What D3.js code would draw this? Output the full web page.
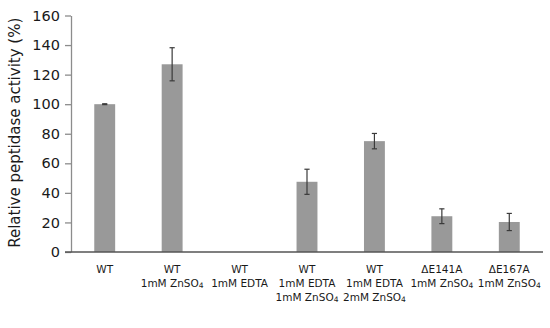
<!DOCTYPE html>
<html>
<head>
<meta charset="utf-8">
<script src="https://cdn.jsdelivr.net/npm/d3@7"></script>
<style>
    body { margin: 0; background: #fff; }
    svg { display: block; font-family: 'DejaVu Sans', Verdana, sans-serif; }
</style>
</head>
<body>
<svg id="chart"></svg>
<script>
// Chart values.
const categories = ['c1', 'c2', 'c3', 'c4', 'c5', 'c6', 'c7'];
const labels = [
    ['WT'],
    ['WT', '1mM ZnSO_4'],
    ['WT', '1mM EDTA'],
    ['WT', '1mM EDTA', '1mM ZnSO_4'],
    ['WT', '1mM EDTA', '2mM ZnSO_4'],
    ['ΔE141A', '1mM ZnSO_4'],
    ['ΔE167A', '1mM ZnSO_4'],
];
const activity = [100, 127, 0, 47.5, 75, 24.2, 20.3];
const errors = [0.3, 11.2, 0, 8.5, 5.2, 5, 5.8];
const yTicks = [0, 20, 40, 60, 80, 100, 120, 140, 160];

// Chart dimensions.
const width = 550;
const height = 328;
const marginLeft = 71;
const marginRight = 7;
const marginTop = 15.5;
const axisY = 252;

const svg = d3.select('#chart').attr('width', width).attr('height', height);

// X scale.
const x = d3
    .scaleBand()
    .domain(categories)
    .range([marginLeft, width - marginRight])
    .paddingInner(0.69)
    .paddingOuter(0.345);

// Y scale.
const y = d3.scaleLinear().domain([0, 160]).range([axisY, marginTop]);

// Add the y-axis.
const yAxis = svg
    .append('g')
    .attr('transform', `translate(${marginLeft}, 0)`)
    .call(d3.axisLeft(y).tickValues(yTicks).tickSize(6).tickSizeOuter(0).tickPadding(5));
yAxis.selectAll('path, line').attr('stroke', '#8c8c8c').attr('stroke-width', 1.3);
yAxis.selectAll('text').attr('font-size', 14.5).attr('fill', '#1a1a1a').attr('font-family', "'DejaVu Sans', sans-serif");

// Add the y-axis label.
svg.append('text')
    .attr('transform', `translate(20, ${(axisY + marginTop) / 2 - 1}) rotate(-90)`)
    .attr('text-anchor', 'middle')
    .attr('font-size', 15)
    .attr('fill', '#1a1a1a')
    .text('Relative peptidase activity (%)');

// Add the bars.
svg.append('g')
    .selectAll('rect')
    .data(categories)
    .join('rect')
    .attr('x', d => x(d))
    .attr('width', x.bandwidth())
    .attr('y', (d, i) => y(activity[i]))
    .attr('height', (d, i) => axisY - y(activity[i]))
    .attr('fill', '#999999');

// Add the error bars.
const cx = d => x(d) + x.bandwidth() / 2;
const errGroup = svg.append('g').attr('stroke', '#3a3a3a').attr('stroke-width', 1.2);
categories.forEach((d, i) => {
    if (errors[i] <= 0) return;
    const top = y(activity[i] + errors[i]);
    const bottom = y(activity[i] - errors[i]);
    errGroup.append('line').attr('x1', cx(d)).attr('x2', cx(d)).attr('y1', top).attr('y2', bottom);
    [top, bottom].forEach(yy => {
        errGroup.append('line')
            .attr('x1', cx(d) - 2.6)
            .attr('x2', cx(d) + 2.6)
            .attr('y1', yy)
            .attr('y2', yy);
    });
});

// Add the x-axis line.
svg.append('line')
    .attr('x1', marginLeft - 6)
    .attr('x2', width - marginRight)
    .attr('y1', axisY)
    .attr('y2', axisY)
    .attr('stroke', '#555')
    .attr('stroke-width', 1.3);

// Add the category labels, stacked line by line under each tick.
const labelLayer = svg.append('g').attr('font-size', 10.5).attr('fill', '#1a1a1a');
categories.forEach((d, i) => {
    labels[i].forEach((line, j) => {
        const t = labelLayer
            .append('text')
            .attr('text-anchor', 'middle')
            .attr('x', cx(d))
            .attr('y', axisY + 21 + j * 14);
        const parts = line.split('_');
        t.append('tspan').text(parts[0]);
        if (parts[1]) {
            t.append('tspan').attr('font-size', 7.5).attr('dy', 1).text(parts[1]);
        }
    });
});
</script>
</body>
</html>
